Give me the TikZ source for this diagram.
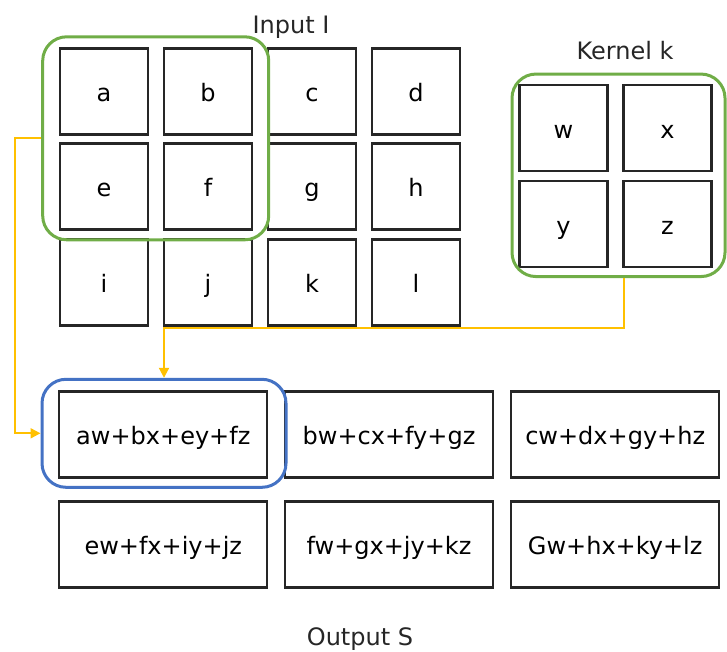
\documentclass[tikz,border=0pt]{standalone}
\usepackage{fontspec}
\setmainfont{DejaVu Sans}
\usetikzlibrary{arrows.meta}
\definecolor{grn}{HTML}{70AD47}
\definecolor{blu}{HTML}{4472C4}
\definecolor{ylw}{HTML}{FFC000}
\begin{document}
\begin{tikzpicture}[x=1pt,y=-1pt,
  cell/.style={draw=black!85,line width=2.3pt,minimum width=88pt,minimum height=86pt,inner sep=0pt,text height=20.4pt,text depth=0pt,font=\fontsize{24}{28}\selectfont},
  outcell/.style={cell,minimum width=208pt},
  lbl/.style={inner sep=0pt,anchor=base,font=\fontsize{24}{28}\selectfont,text=black!85},
  grp/.style={line width=3pt,rounded corners=24pt,inner sep=0pt},
  conn/.style={draw=ylw,line width=2pt,-{Triangle[length=10pt,width=10pt]}}]
\useasboundingbox (0,0) rectangle (727,652);
% input grid
\node[cell] (a) at (104,91.5) {a};
\node[cell] (b) at (208,91.5) {b};
\node[cell] (c) at (312,91.5) {c};
\node[cell] (d) at (416,91.5) {d};
\node[cell] (e) at (104,186.5) {e};
\node[cell] (f) at (208,186.5) {f};
\node[cell] (g) at (312,186.5) {g};
\node[cell] (h) at (416,186.5) {h};
\node[cell] (i) at (104,282.5) {i};
\node[cell] (j) at (208,282.5) {j};
\node[cell] (k) at (312,282.5) {k};
\node[cell] (l) at (416,282.5) {l};
% kernel
\node[cell] (w) at (563.5,128) {w};
\node[cell] (x) at (667.5,128) {x};
\node[cell] (y) at (563.5,224) {y};
\node[cell] (z) at (667.5,224) {z};
% output
\node[outcell] (s1) at (163.3,434.5) {aw+bx+ey+fz};
\node[outcell] (s2) at (389,434.5) {bw+cx+fy+gz};
\node[outcell] (s3) at (615.2,434.5) {cw+dx+gy+hz};
\node[outcell] (s4) at (163.3,544.5) {ew+fx+iy+jz};
\node[outcell] (s5) at (389,544.5) {fw+gx+jy+kz};
\node[outcell] (s6) at (615.2,544.5) {Gw+hx+ky+lz};
% groups
\node[grp,draw=grn,minimum width=226pt,minimum height=203pt] (gin) at (155.7,138.3) {};
\node[grp,draw=grn,minimum width=213pt,minimum height=202.5pt] (gk) at (618.5,175.3) {};
\node[grp,draw=blu,minimum width=244pt,minimum height=108pt] (gout) at (164,433.3) {};
% labels
\node[lbl] (tin) at (291,33.3) {Input I};
\node[lbl] (tk) at (625,60) {Kernel k};
\node[lbl] (tout) at (360,645) {Output S};
% connectors
\coordinate (p1) at (14.7,137.7);
\coordinate (p2) at (14.7,433.3);
\draw[conn] (gin.west |- p1) -- (p1) -- (p2) -- (gout.west |- p2);
\coordinate (q1) at (624.3,327.7);
\coordinate (q2) at (164,327.7);
\draw[conn] (gk.south -| q1) -- (q1) -- (q2) -- (gout.north -| q2);
\end{tikzpicture}
\end{document}
